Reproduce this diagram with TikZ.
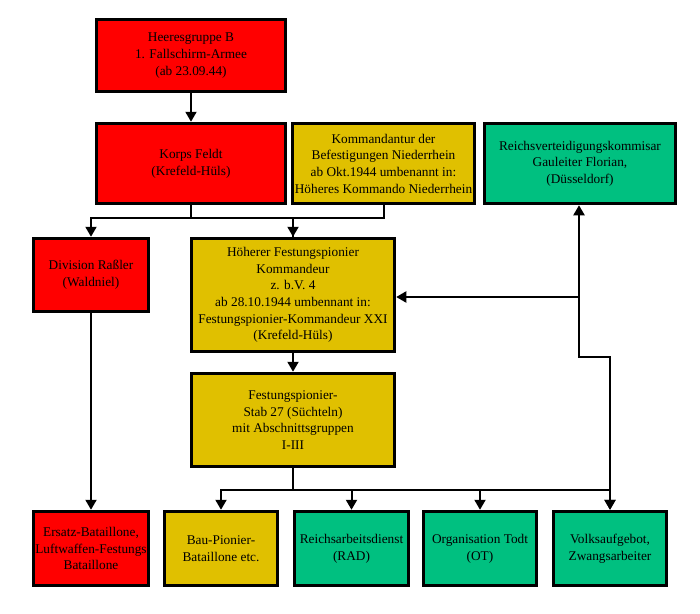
\documentclass[tikz,border=0pt]{standalone}
\usepackage{fontspec}
\setmainfont{Liberation Serif}
\usepackage{tikz}
\usetikzlibrary{arrows.meta, positioning, calc}
\definecolor{hred}{RGB}{255,0,0}
\definecolor{hgold}{RGB}{224,192,0}
\definecolor{hgreen}{RGB}{0,192,128}

\begin{document}
\begin{tikzpicture}[
    x=1pt, y=-1pt,
    box/.style={draw, line width=3.5pt, inner sep=1pt, align=center, font=\fontsize{13.3}{16.7}\selectfont},
    arrow/.style={-{Triangle[length=10pt,width=11pt]}, line width=2pt},
    line/.style={line width=2pt}
]
\useasboundingbox (0,0) rectangle (700,613);

\node[box, fill=hred, minimum width=189pt, minimum height=72pt] (hgb) at (191,55.5) {Heeresgruppe B\\1. Fallschirm-Armee\\(ab 23.09.44)};
\node[box, fill=hred, minimum width=189pt, minimum height=80pt] (korps) at (191,163.5) {Korps Feldt\\(Krefeld-Hüls)};
\node[box, fill=hgold, minimum width=182pt, minimum height=80pt] (kdt) at (383.5,163.5) {Kommandantur der\\Befestigungen Niederrhein\\ab Okt.1944 umbenannt in:\\Höheres Kommando Niederrhein};
\node[box, fill=hgreen, minimum width=191pt, minimum height=80pt] (rvk) at (580,163.5) {Reichsverteidigungskommisar\\Gauleiter Florian,\\(Düsseldorf)};

\node[box, fill=hred, minimum width=115pt, minimum height=73pt] (div) at (91,275) {Division Raßler\\(Waldniel)};
\node[box, fill=hgold, minimum width=203pt, minimum height=113pt] (hfk) at (293,295) {Höherer Festungspionier\\Kommandeur\\z. b.V. 4\\ab 28.10.1944 umbennant in:\\Festungspionier-Kommandeur XXI\\(Krefeld-Hüls)};
\node[box, fill=hgold, minimum width=203pt, minimum height=93pt] (stab) at (293,420) {Festungspionier-\\Stab 27 (Süchteln)\\mit Abschnittsgruppen\\I-III};

\node[box, fill=hred, minimum width=115pt, minimum height=74pt] (ersatz) at (91,548.5) {Ersatz-Bataillone,\\Luftwaffen-Festungs\\Bataillone};
\node[box, fill=hgold, minimum width=113pt, minimum height=74pt] (bau) at (221,548.5) {Bau-Pionier-\\Bataillone etc.};
\node[box, fill=hgreen, minimum width=114pt, minimum height=74pt] (rad) at (351.5,548.5) {Reichsarbeitsdienst\\(RAD)};
\node[box, fill=hgreen, minimum width=113pt, minimum height=74pt] (ot) at (480,548.5) {Organisation Todt\\(OT)};
\node[box, fill=hgreen, minimum width=113pt, minimum height=74pt] (volk) at (610,548.5) {Volksaufgebot,\\Zwangsarbeiter};

\draw[arrow] (hgb) -- (korps);
\draw[arrow] (korps.south) -- ++(0,13) -| (div.north);
\draw[arrow] (korps.south) -- ++(0,13) -| (hfk.north);
\draw[line] (kdt.south) -- ++(0,13) -| (hfk.north);
\draw[arrow] (div) -- (ersatz);
\draw[arrow] (hfk) -- (stab);

\foreach \n in {bau, rad, ot, volk}
    \draw[arrow] (stab.south) -- ++(0,22) -| (\n.north);

\coordinate (rj) at (579,297);
\coordinate (rk) at (579,357);
\draw[arrow] (rj) -- (rvk.south -| rj);
\draw[arrow] (rj) -- (hfk.east |- rj);
\draw[arrow] (rj) -- (rk) -| (volk.north);

\end{tikzpicture}
\end{document}
